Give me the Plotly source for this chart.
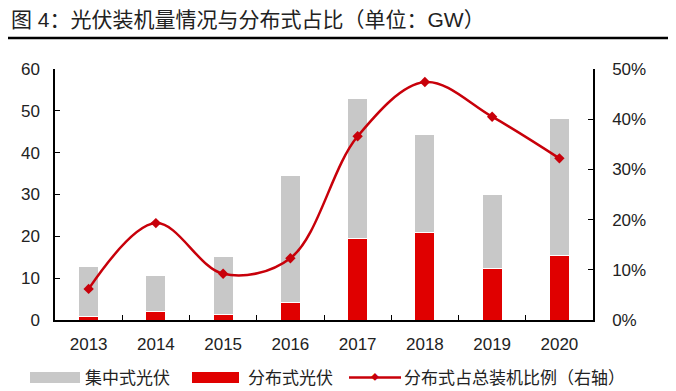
import plotly.graph_objects as go

years = ["2013", "2014", "2015", "2016", "2017", "2018", "2019", "2020"]
centralized = [12.1, 8.6, 13.7, 30.3, 33.6, 23.3, 17.9, 32.7]
distributed = [0.8, 2.05, 1.4, 4.2, 19.4, 21.0, 12.2, 15.5]
ratio = [6.2, 19.3, 9.2, 12.3, 36.6, 47.4, 40.5, 32.2]

title_text = "图 4：光伏装机量情况与分布式占比（单位：GW）"
legend_names = ["集中式光伏", "分布式光伏", "分布式占总装机比例（右轴）"]

GRAY = "#C8C8C8"
RED = "#E00000"
LINE_RED = "#C8000A"
FONT = "Liberation Sans, Arial, Noto Sans CJK SC, sans-serif"

fig = go.Figure()
fig.add_trace(go.Bar(x=years, y=distributed, name=legend_names[1], marker=dict(color=RED, line=dict(color="white", width=1)), showlegend=False))
fig.add_trace(go.Bar(x=years, y=centralized, name=legend_names[0], marker=dict(color=GRAY, line=dict(color="white", width=1)), showlegend=False))
fig.add_trace(go.Scatter(x=years, y=ratio, name=legend_names[2], yaxis="y2", mode="lines+markers",
                         line=dict(color=LINE_RED, width=2.5, shape="spline", smoothing=1.0),
                         marker=dict(symbol="diamond", size=8, color=LINE_RED), showlegend=False))

# page body has an 8px margin; compensate
O = 8
SW, SH = 676, 391
W, H = SW - O, SH - O
L, R, T, B = 55 - O, 83, 69 - O, 71
pw, ph = W - L - R, H - T - B

def px(x):
    return (x - O - L) / pw

def py(y):
    return (H - B - (y - O)) / ph

shapes = [
    dict(type="line", xref="paper", yref="paper", x0=px(O), x1=px(672), y0=py(38), y1=py(38), line=dict(color="black", width=2.5)),
    dict(type="rect", xref="paper", yref="paper", x0=px(30), x1=px(80), y0=py(383), y1=py(372), fillcolor=GRAY, line=dict(width=0)),
    dict(type="rect", xref="paper", yref="paper", x0=px(192), x1=px(239), y0=py(383), y1=py(372), fillcolor=RED, line=dict(width=0)),
    dict(type="line", xref="paper", yref="paper", x0=px(349), x1=px(401), y0=py(377.5), y1=py(377.5), line=dict(color=LINE_RED, width=2.5)),
]
annotations = [
    dict(text=title_text, xref="paper", yref="paper", x=px(O + 1), y=py(20), xanchor="left", yanchor="middle", showarrow=False, font=dict(size=21, color="#222")),
    dict(text=legend_names[0], xref="paper", yref="paper", x=px(83), y=py(378), xanchor="left", yanchor="middle", showarrow=False, font=dict(size=17, color="#222")),
    dict(text=legend_names[1], xref="paper", yref="paper", x=px(246), y=py(378), xanchor="left", yanchor="middle", showarrow=False, font=dict(size=17, color="#222")),
    dict(text=legend_names[2], xref="paper", yref="paper", x=px(402), y=py(378), xanchor="left", yanchor="middle", showarrow=False, font=dict(size=17, color="#222")),
    dict(text="◆", xref="paper", yref="paper", x=px(375), y=py(377.5), xanchor="center", yanchor="middle", showarrow=False, font=dict(size=8, color=LINE_RED)),
]

fig.update_layout(
    width=W, height=H,
    margin=dict(l=L, r=R, t=T, b=B, pad=0),
    paper_bgcolor="white", plot_bgcolor="white",
    barmode="stack", bargap=0.7,
    font=dict(family=FONT, size=17, color="#222"),
    xaxis=dict(type="category", showline=True, linecolor="black", linewidth=1.5, ticks="inside", tickson="boundaries",
               ticklen=5, tickcolor="black", showgrid=False, tickfont=dict(size=17), ticklabelstandoff=8),
    yaxis=dict(range=[0, 60], dtick=10, showline=True, linecolor="black", linewidth=1.5, ticks="inside", ticklen=5,
               tickcolor="black", showgrid=False, zeroline=False, tickfont=dict(size=17), ticklabelstandoff=10),
    yaxis2=dict(range=[0, 50], dtick=10, overlaying="y", side="right", showline=True, linecolor="black", linewidth=1.5,
                ticks="inside", ticklen=5, tickcolor="black", showgrid=False, zeroline=False, ticksuffix="%",
                tickfont=dict(size=17), ticklabelstandoff=14),
    shapes=shapes, annotations=annotations,
)

fig.write_html("out.html")
